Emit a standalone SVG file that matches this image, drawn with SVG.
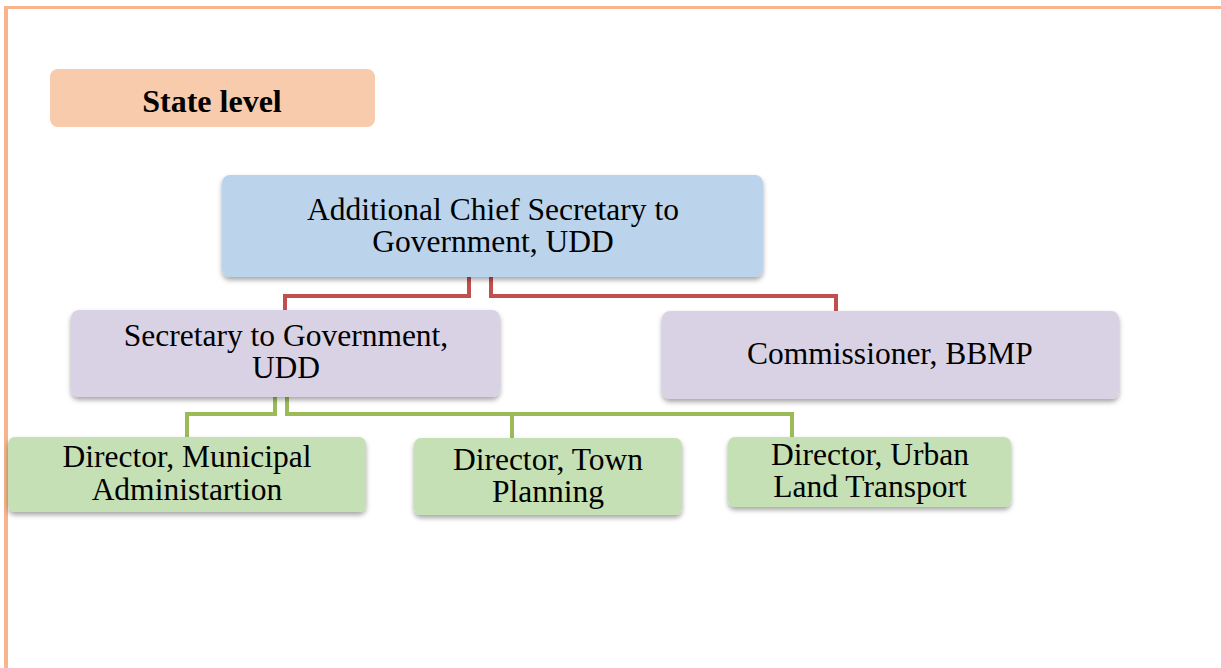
<svg xmlns="http://www.w3.org/2000/svg" width="1221" height="668" viewBox="0 0 1221 668">
<style>
.t{font-family:"Liberation Serif","Times New Roman",serif;font-size:31.5px;fill:#000;text-anchor:middle}
.b{font-weight:bold;font-size:32px}
.red{fill:none;stroke:#C0504D;stroke-width:4}
.grn{fill:none;stroke:#9BBB59;stroke-width:4}
.blue{fill:#BBD4EB}
.pur{fill:#D9D2E5}
.gr{fill:#C5E0B4}
</style>
<defs>
<filter id="sh" x="-10%" y="-20%" width="120%" height="150%">
<feDropShadow dx="0" dy="3" stdDeviation="2.5" flood-color="#000" flood-opacity="0.35"/>
</filter>
</defs>
<rect width="1221" height="668" fill="#fff"/>
<g id="frame">
<line x1="4" y1="7.5" x2="1221" y2="7.5" stroke="#F8B48A" stroke-width="3"/>
<line x1="6" y1="6" x2="6" y2="668" stroke="#F8B48A" stroke-width="4"/>
</g>
<g id="state-level">
<rect x="50" y="69" width="325" height="58" rx="8" fill="#F8CBAD"/>
<text class="t b" x="212" y="112">State level</text>
</g>
<g id="connectors">
<polyline class="red" points="469,277 469,296 285,296 285,312"/>
<polyline class="red" points="491,277 491,296 836,296 836,313"/>
<polyline class="grn" points="275,397 275,414 187,414 187,437"/>
<polyline class="grn" points="287,397 287,414 792,414 792,437"/>
<line class="grn" x1="512" y1="414" x2="512" y2="438"/>
</g>
<g id="acs">
<rect class="blue" x="222" y="175" width="541" height="102" rx="8" filter="url(#sh)"/>
<text class="t" x="493" y="220">Additional Chief Secretary to</text>
<text class="t" x="493" y="252">Government, UDD</text>
</g>
<g id="secretary">
<rect class="pur" x="71" y="310" width="429" height="87" rx="8" filter="url(#sh)"/>
<text class="t" x="286" y="346">Secretary to Government,</text>
<text class="t" x="286" y="378">UDD</text>
</g>
<g id="commissioner">
<rect class="pur" x="662" y="311" width="457" height="88" rx="8" filter="url(#sh)"/>
<text class="t" x="890" y="364">Commissioner, BBMP</text>
</g>
<g id="dir-municipal">
<rect class="gr" x="8" y="437" width="358" height="75" rx="7" filter="url(#sh)"/>
<text class="t" x="187" y="467">Director, Municipal</text>
<text class="t" x="187" y="500">Administartion</text>
</g>
<g id="dir-town">
<rect class="gr" x="414" y="438" width="268" height="77" rx="7" filter="url(#sh)"/>
<text class="t" x="548" y="470">Director, Town</text>
<text class="t" x="548" y="502">Planning</text>
</g>
<g id="dir-urban">
<rect class="gr" x="728" y="437" width="283" height="70" rx="7" filter="url(#sh)"/>
<text class="t" x="870" y="465">Director, Urban</text>
<text class="t" x="870" y="497">Land Transport</text>
</g>
</svg>
